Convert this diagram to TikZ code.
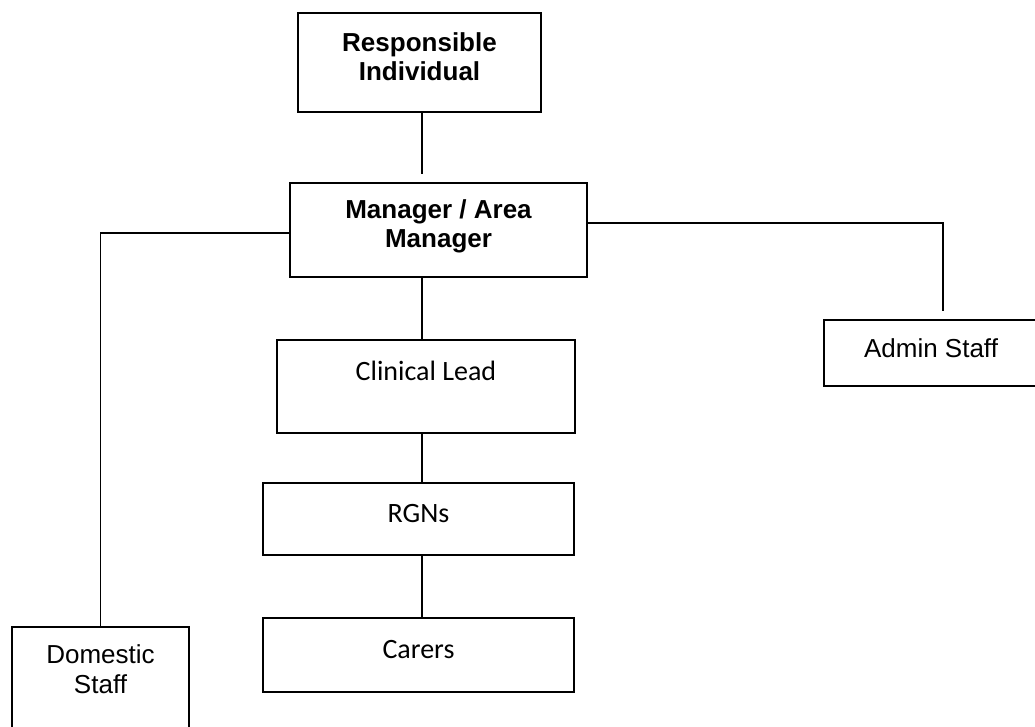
\documentclass[tikz,border=0pt]{standalone}
\usepackage{fontspec}
\setmainfont{Liberation Sans}
\newfontfamily\calibri{Carlito}
\usepackage{tikz}
\usetikzlibrary{positioning}

\tikzset{
  box/.style={draw, line width=1.7pt, inner sep=0pt, align=center},
  boldbox/.style={box, font=\fontsize{26}{29}\selectfont\bfseries},
  plainbox/.style={box, font=\fontsize{26}{30}\selectfont},
  calbox/.style={box, font=\calibri\fontsize{28}{32}\selectfont},
  link/.style={line width=1.7pt},
}

\begin{document}
\begin{tikzpicture}[x=1pt, y=-1pt]
    \useasboundingbox (0,0) rectangle (1035,726);
    \coordinate (spine) at (422,0);
    \node [boldbox, minimum width=243pt, minimum height=99pt, text depth=12pt] (ri) at (419.5,62.5) {Responsible\\Individual};
    \node [boldbox, minimum width=297pt, minimum height=94pt, text depth=13.5pt] (manager) at (438.5,230) {Manager / Area\\Manager};
    \node [calbox, minimum width=298pt, minimum height=93pt, text depth=32pt] (clinical) at (426,386.5) {Clinical Lead};
    \node [calbox, minimum width=311pt, minimum height=72pt, text depth=12pt] (rgns) at (418.5,519) {RGNs};
    \node [calbox, minimum width=311pt, minimum height=74pt, text depth=10pt, below=61pt of rgns] (carers) {Carers};
    \node [plainbox, minimum width=177pt, minimum height=133pt, text depth=49pt] (domestic) at (100.5,693.5) {Domestic\\Staff};
    \node [plainbox, minimum width=214pt, minimum height=66pt, text depth=10pt] (admin) at (931,353) {Admin Staff};
    % connectors
    \draw [link, shorten >=8pt] (ri.south -| spine) -- (manager.north -| spine);
    \draw [link] (manager.south -| spine) -- (clinical.north -| spine)
        (clinical.south -| spine) -- (rgns.north -| spine)
        (rgns.south -| spine) -- (carers.north -| spine);
    \draw [link] ([yshift=-3pt]manager.west) -| (domestic.north);
    \draw [link, shorten >=8pt] ([yshift=7pt]manager.east) -| ([xshift=12pt]admin.north);
\end{tikzpicture}
\end{document}
